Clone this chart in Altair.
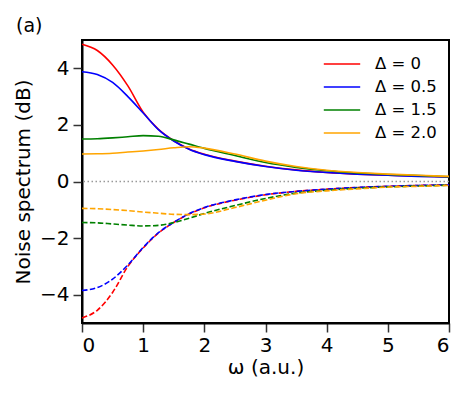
import altair as alt
import pandas as pd

omega = [0, 0.25, 0.5, 0.75, 1.0, 1.25, 1.5, 1.75, 2.0, 2.5, 3.0, 3.5, 4.0, 4.5, 5.0, 5.5, 6.0]

labels = ["Δ = 0", "Δ = 0.5", "Δ = 1.5", "Δ = 2.0"]
colors = ["#ff0000", "#0000ff", "#008000", "#ffa500"]

# anti-squeezed (solid) spectra, dB
solid_d0 = [4.85, 4.63, 4.12, 3.38, 2.45, 1.84, 1.44, 1.15, 0.96, 0.72, 0.54, 0.41, 0.32, 0.26, 0.22, 0.19, 0.16]
solid_d05 = [3.88, 3.78, 3.50, 3.00, 2.42, 1.83, 1.43, 1.14, 0.95, 0.71, 0.53, 0.40, 0.32, 0.26, 0.22, 0.18, 0.16]
solid_d15 = [1.50, 1.51, 1.54, 1.58, 1.62, 1.60, 1.47, 1.32, 1.17, 0.92, 0.67, 0.50, 0.38, 0.30, 0.25, 0.21, 0.17]
solid_d20 = [0.97, 0.98, 1.00, 1.04, 1.08, 1.13, 1.19, 1.23, 1.18, 0.97, 0.72, 0.53, 0.40, 0.32, 0.26, 0.22, 0.18]

# squeezed (dashed) spectra, dB
dash_d0 = [-4.82, -4.55, -3.92, -3.00, -2.35, -1.82, -1.45, -1.15, -0.93, -0.66, -0.47, -0.35, -0.27, -0.21, -0.17, -0.14, -0.12]
dash_d05 = [-3.85, -3.75, -3.45, -2.95, -2.33, -1.81, -1.44, -1.14, -0.92, -0.65, -0.46, -0.35, -0.27, -0.21, -0.17, -0.14, -0.12]
dash_d15 = [-1.45, -1.46, -1.50, -1.54, -1.57, -1.55, -1.45, -1.30, -1.13, -0.85, -0.60, -0.41, -0.31, -0.24, -0.19, -0.16, -0.13]
dash_d20 = [-0.95, -0.96, -0.99, -1.03, -1.08, -1.12, -1.16, -1.17, -1.15, -0.92, -0.66, -0.43, -0.33, -0.26, -0.20, -0.17, -0.14]

solid_series = [solid_d0, solid_d05, solid_d15, solid_d20]
dash_series = [dash_d0, dash_d05, dash_d15, dash_d20]

rows = []
for lab, s, d in zip(labels, solid_series, dash_series):
    for w, a, b in zip(omega, s, d):
        rows.append({"omega": w, "value": a, "delta": lab, "kind": "solid"})
        rows.append({"omega": w, "value": b, "delta": lab, "kind": "dashed"})
df = pd.DataFrame(rows)

xscale = alt.Scale(domain=[0, 6], nice=False)
yscale = alt.Scale(domain=[-5, 5], nice=False)
cscale = alt.Scale(domain=labels, range=colors)

xaxis = alt.Axis(values=[0, 1, 2, 3, 4, 5, 6], title="ω (a.u.)", grid=False,
                 labelFontSize=20, titleFontSize=20, titleFontWeight="normal",
                 tickSize=9, tickWidth=1.5, tickColor="#333333", labelPadding=3,
                 domainColor="black", domainWidth=2, titlePadding=2,
                 labelColor="black", titleColor="black")
yaxis = alt.Axis(values=[-4, -2, 0, 2, 4], title="Noise spectrum (dB)", grid=False,
                 labelFontSize=20, titleFontSize=20, titleFontWeight="normal",
                 tickSize=9, tickWidth=1.5, tickColor="#333333", labelPadding=4,
                 domainColor="black", domainWidth=2, titlePadding=6,
                 labelColor="black", titleColor="black")

base = alt.Chart(df)

zero = alt.Chart(pd.DataFrame({"z": [0]})).mark_rule(
    color="#999999", strokeWidth=1.5, strokeDash=[1.5, 2.5]
).encode(y=alt.Y("z:Q", scale=yscale, axis=yaxis))

solid = base.transform_filter(alt.datum.kind == "solid").mark_line(
    strokeWidth=1.6, interpolate="monotone"
).encode(
    x=alt.X("omega:Q", scale=xscale, axis=xaxis),
    y=alt.Y("value:Q", scale=yscale, axis=yaxis),
    color=alt.Color("delta:N", scale=cscale, sort=labels, legend=alt.Legend(
        title=None, orient="none", legendX=246, legendY=10,
        symbolType="M-1.4,0H1.4", symbolSize=676, symbolStrokeWidth=1.6,
        labelFontSize=16.5, labelOffset=19, rowPadding=0, padding=0,
        labelColor="black", labelFont="DejaVu Sans",
    )),
)

dashed = base.transform_filter(alt.datum.kind == "dashed").mark_line(
    strokeWidth=1.6, interpolate="monotone", strokeDash=[5.5, 2.4]
).encode(
    x=alt.X("omega:Q", scale=xscale, axis=xaxis),
    y=alt.Y("value:Q", scale=yscale, axis=yaxis),
    color=alt.Color("delta:N", scale=cscale, sort=labels, legend=None),
)

panel = alt.Chart(pd.DataFrame({"t": ["(a)"]})).mark_text(
    align="left", baseline="alphabetic", fontSize=19, font="DejaVu Sans", color="black"
).encode(text="t:N", x=alt.value(-66), y=alt.value(-8))

chart = alt.layer(zero, solid, dashed, panel).properties(
    width=367, height=283,
    autosize="none",
    padding={"left": 74, "top": 32, "right": 15, "bottom": 60},
).configure(font="DejaVu Sans").configure_view(
    stroke="black", strokeWidth=2
)

chart.save("out.html", embed_options={"renderer": "svg", "actions": False})
